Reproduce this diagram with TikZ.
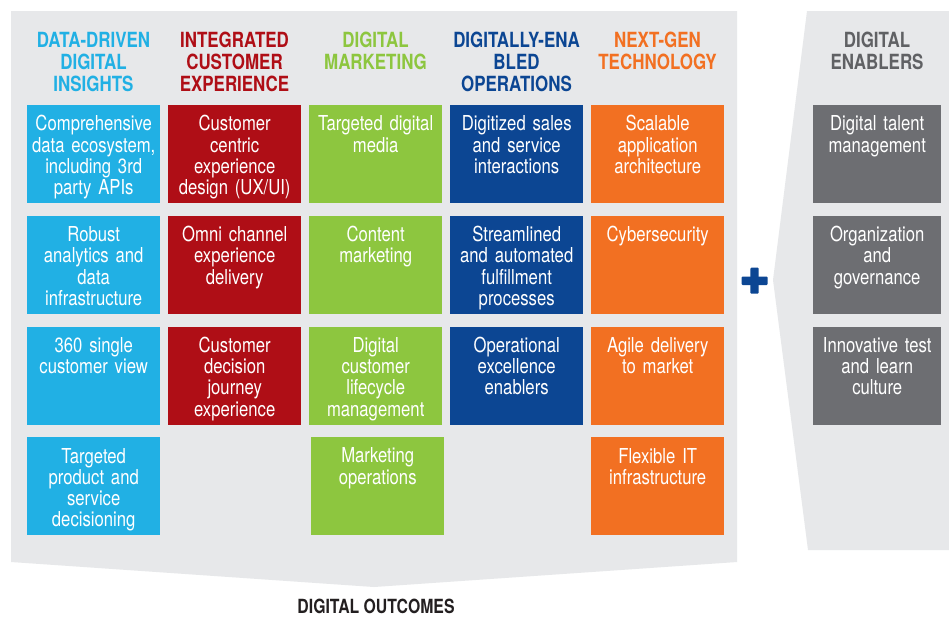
\documentclass[tikz,border=0pt]{standalone}
\usepackage{fontspec}
\setmainfont{TeX Gyre Heros}[FakeStretch=0.81]
\definecolor{panelgray}{RGB}{231,232,234}
\definecolor{ddblue}{RGB}{33,176,228}
\definecolor{iered}{RGB}{175,14,22}
\definecolor{dmgreen}{RGB}{141,198,63}
\definecolor{deblue}{RGB}{12,70,147}
\definecolor{ngorange}{RGB}{242,112,34}
\definecolor{engray}{RGB}{109,110,114}
\definecolor{headgray}{RGB}{96,97,100}
\definecolor{outtext}{RGB}{35,31,32}
\tikzset{
  outbox/.style={fill=#1, text=white, anchor=north west, inner sep=0pt,
    text width=133pt, align=center, text height=25.7pt, text depth=72.3pt,
    font=\fontsize{20.6}{21.3}\selectfont},
  colhead/.style={text=#1, anchor=north, inner sep=0pt, text width=150pt,
    align=center, text height=15pt, font=\bfseries\fontsize{20.9}{21.6}\selectfont}
}

\begin{document}
\begin{tikzpicture}[x=1pt,y=-1pt]
  \useasboundingbox[fill=white] (0,0) rectangle (949,619);
  \fill[panelgray] (11,11) -- (737,11) -- (737,562) -- (374,587) -- (11,562) -- cycle;
  \fill[panelgray] (807,11) -- (949,11) -- (949,550) -- (808,550) -- (773,280) -- cycle;
  \fill[deblue, rounded corners=1pt] (741.5,276.5) rectangle (767.5,285);
  \fill[deblue, rounded corners=1pt] (750.3,267.7) rectangle (758.7,293.7);

  \node[colhead=ddblue] (head-insight) at (93.5,32.7) {DATA-DRIVEN\\DIGITAL\\INSIGHTS};
  \node[colhead=iered] (head-experience) at (234.5,32.7) {INTEGRATED\\CUSTOMER\\EXPERIENCE};
  \node[colhead=dmgreen] (head-marketing) at (375.5,32.7) {DIGITAL\\MARKETING};
  \node[colhead=deblue] (head-operations) at (516.5,32.7) {DIGITALLY-ENA\\BLED\\OPERATIONS};
  \node[colhead=ngorange] (head-technology) at (657.5,32.7) {NEXT-GEN\\TECHNOLOGY};
  \node[colhead=headgray] (head-enablers) at (877,32.7) {DIGITAL\\ENABLERS};

  \foreach \txt [count=\r] in {{Comprehensive\\data ecosystem,\\including 3rd\\party APIs},
      {Robust\\analytics and\\data\\infrastructure},{360 single\\customer view},
      {Targeted\\product and\\service\\decisioning}}
    \node[outbox=ddblue] (insight-\r) at (27,{105+(\r-1)*110.7}) {\txt};
  \foreach \txt [count=\r] in {{Customer\\centric\\experience\\design (UX/UI)},
      {Omni channel\\experience\\delivery},{Customer\\decision\\journey\\experience}}
    \node[outbox=iered] (experience-\r) at (168,{105+(\r-1)*110.7}) {\txt};
  \foreach \txt [count=\r] in {{Targeted digital\\media},{Content\\marketing},
      {Digital\\customer\\lifecycle\\management}}
    \node[outbox=dmgreen] (marketing-\r) at (309,{105+(\r-1)*110.7}) {\txt};
  \node[outbox=dmgreen] (marketing-4) at (311,437) {Marketing\\operations};
  \foreach \txt [count=\r] in {{Digitized sales\\and service\\interactions},
      {Streamlined\\and automated\\fulfillment\\processes},
      {Operational\\excellence\\enablers}}
    \node[outbox=deblue] (operations-\r) at (450,{105+(\r-1)*110.7}) {\txt};
  \foreach \txt [count=\r] in {{Scalable\\application\\architecture},{Cybersecurity},
      {Agile delivery\\to market},{Flexible IT\\infrastructure}}
    \node[outbox=ngorange] (technology-\r) at (591,{105+(\r-1)*110.7}) {\txt};
  \foreach \txt [count=\r] in {{Digital talent\\management},{Organization\\and\\governance},
      {Innovative test\\and learn\\culture}}
    \node[outbox=engray, text width=128pt] (enabler-\r) at (813,{105+(\r-1)*110.7}) {\txt};

  \node[anchor=base, inner sep=0pt, text=outtext,
    font=\bfseries\fontsize{19.5}{20}\selectfont] (outcomes) at (376,613.5) {DIGITAL OUTCOMES};
\end{tikzpicture}
\end{document}
